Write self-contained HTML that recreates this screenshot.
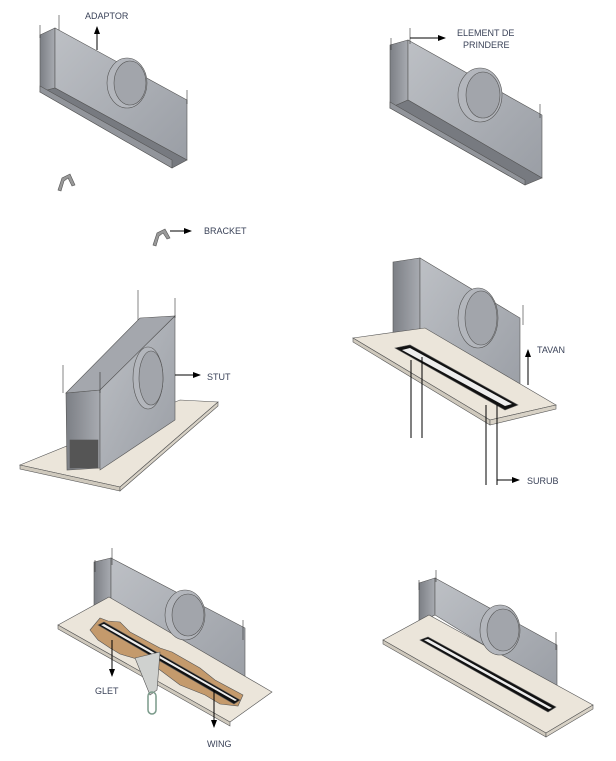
<!DOCTYPE html>
<html><head><meta charset="utf-8"><style>
html,body{margin:0;padding:0;background:#fff;}
svg{display:block;}
text{font-family:"Liberation Sans",sans-serif;font-size:9px;fill:#3a4258;}
</style></head><body>
<svg width="616" height="761" viewBox="0 0 616 761" xmlns="http://www.w3.org/2000/svg">
<defs>
<linearGradient id="g1" x1="0" y1="0" x2="1" y2="1"><stop offset="0" stop-color="#bdc0c5"/><stop offset="1" stop-color="#9a9ea5"/></linearGradient>
<linearGradient id="g2" x1="0" y1="0" x2="1" y2="0"><stop offset="0" stop-color="#7c7f85"/><stop offset="1" stop-color="#a8abb1"/></linearGradient>
<marker id="ah" markerWidth="8" markerHeight="6" refX="7" refY="3" orient="auto"><path d="M0,0 L8,3 L0,6z" fill="#000"/></marker>
</defs>
<g stroke="#555" stroke-width="0.6">
<polygon points="40,35 55,28 55,88 40,92" fill="url(#g2)"/>
<polygon points="55,28 187,100 187,160 55,88" fill="url(#g1)"/>
<polygon points="40,92 55,88 187,160 172,168" fill="#777a80"/>
<polygon points="40,92 172,168 172,160 40,86" fill="#92959b"/>
<ellipse cx="127" cy="83" rx="20" ry="25" fill="#b3b6bc"/>
<ellipse cx="130" cy="83" rx="16" ry="22" fill="#a2a5ab"/>
<line x1="59" y1="15" x2="59" y2="30" stroke="#333"/><line x1="40" y1="25" x2="40" y2="38" stroke="#333"/><line x1="187" y1="90" x2="187" y2="104" stroke="#333"/>
<path d="M58,190 L62,178 L70,174 L75,185 L72,186 L68,178 L64,181 L61,191z" fill="#999"/>
<path d="M153,245 L157,233 L165,229 L170,238 L167,239 L163,233 L159,236 L156,246z" fill="#999"/>
<polygon points="390,45 408,40 408,100 390,108" fill="url(#g2)"/>
<polygon points="408,40 542,115 542,178 408,100" fill="url(#g1)"/>
<polygon points="390,108 408,100 542,178 525,185" fill="#777a80"/>
<polygon points="390,108 525,185 525,180 390,102" fill="#92959b"/>
<ellipse cx="480" cy="95" rx="22" ry="27" fill="#b3b6bc"/>
<ellipse cx="483" cy="95" rx="17" ry="23" fill="#a2a5ab"/>
<line x1="410" y1="28" x2="410" y2="44" stroke="#333"/><line x1="391" y1="38" x2="391" y2="50" stroke="#333"/><line x1="540" y1="104" x2="540" y2="118" stroke="#333"/>
<polygon points="20,465 180,400 218,402 120,487" fill="#ebe5da"/>
<polygon points="20,465 120,487 120,491 20,469" fill="#cfc9bd"/>
<polygon points="120,487 218,402 218,406 120,491" fill="#d8d2c6"/>
<polygon points="66,393 100,390 100,468 67,470" fill="url(#g2)"/>
<polygon points="66,393 140,318 175,316 100,390" fill="#a4a7ad"/>
<polygon points="100,390 175,316 175,420 100,470" fill="url(#g1)"/>
<rect x="70" y="440" width="28" height="28" fill="#555"/>
<ellipse cx="148" cy="378" rx="15" ry="31" fill="#b3b6bc"/>
<ellipse cx="151" cy="378" rx="12" ry="27" fill="#a2a5ab"/>
<line x1="138" y1="290" x2="138" y2="320" stroke="#333"/><line x1="175" y1="298" x2="175" y2="318" stroke="#333"/><line x1="63" y1="365" x2="63" y2="393" stroke="#333"/><line x1="100" y1="372" x2="100" y2="393" stroke="#333"/>
<polygon points="393,262 420,258 420,340 393,345" fill="url(#g2)"/>
<polygon points="420,258 520,318 520,400 420,340" fill="url(#g1)"/>
<polygon points="353,338 425,328 556,405 490,420" fill="#ebe5da"/>
<polygon points="353,338 490,420 490,425 353,342" fill="#cfc9bd"/>
<polygon points="490,420 556,405 556,409 490,425" fill="#d8d2c6"/>
<polygon points="395,348 410,345 518,405 505,410" fill="#111"/>
<polygon points="402,350 410,348 512,404 505,406" fill="#eee" stroke="none"/>
<ellipse cx="478" cy="318" rx="20" ry="30" fill="#b3b6bc"/>
<ellipse cx="481" cy="318" rx="16" ry="27" fill="#a2a5ab"/>
<line x1="523" y1="305" x2="523" y2="325" stroke="#333"/>
</g>
<g stroke="#000" stroke-width="1">
<line x1="97" y1="50" x2="97" y2="27" marker-end="url(#ah)"/>
<line x1="170" y1="231" x2="191" y2="231" marker-end="url(#ah)"/>
<line x1="410" y1="38" x2="445" y2="38" marker-end="url(#ah)"/>
<line x1="175" y1="375" x2="200" y2="375" marker-end="url(#ah)"/>
<line x1="411" y1="360" x2="411" y2="438"/><line x1="422" y1="357" x2="422" y2="438"/>
<line x1="486" y1="405" x2="486" y2="485"/><line x1="497" y1="405" x2="497" y2="485"/>
<line x1="497" y1="480" x2="519" y2="480" marker-end="url(#ah)"/>
<line x1="528" y1="385" x2="528" y2="350" marker-end="url(#ah)"/>
</g>
<g stroke="#555" stroke-width="0.6">
<polygon points="94,562 111,558 111,610 94,615" fill="url(#g2)"/>
<polygon points="111,558 245,628 245,690 111,610" fill="url(#g1)"/>
<polygon points="58,625 109,597 272,692 230,722" fill="#ebe5da"/>
<polygon points="58,625 230,722 230,726 58,629" fill="#cfc9bd"/>
<path d="M90,630 L95,624 L100,618 L108,621 L120,622 L130,632 L160,648 L172,652 L200,668 L215,680 L243,695 L238,706 L220,704 L205,695 L180,685 L160,670 L140,660 L120,654 L110,648 L98,640z" fill="#c49a6c"/>
<polygon points="98,625 104,622 240,700 234,704" fill="#111"/>
<polygon points="101,625 104,624 237,700 235,701" fill="#eee" stroke="none"/>
<ellipse cx="185" cy="615" rx="20" ry="25" fill="#b3b6bc"/>
<ellipse cx="188" cy="615" rx="16" ry="21" fill="#a2a5ab"/>
<path d="M135,658 L160,652 L157,690 L150,695z" fill="#cfd1cf"/>
<rect x="148" y="692" width="8" height="22" rx="4" fill="none" stroke="#7a9a8a" stroke-width="1.5"/>
<line x1="112" y1="548" x2="112" y2="565" stroke="#333"/><line x1="95" y1="560" x2="95" y2="572" stroke="#333"/><line x1="243" y1="620" x2="243" y2="640" stroke="#333"/>
<polygon points="419,583 435,578 435,615 419,622" fill="url(#g2)"/>
<polygon points="435,578 557,645 557,690 435,615" fill="url(#g1)"/>
<polygon points="383,640 429,615 593,705 546,733" fill="#ebe5da"/>
<polygon points="383,640 546,733 546,737 383,644" fill="#cfc9bd"/>
<polygon points="546,733 593,705 593,709 546,737" fill="#d8d2c6"/>
<polygon points="420,640 428,637 556,707 548,712" fill="#111"/>
<polygon points="424,640 428,639 552,708 549,709" fill="#eee" stroke="none"/>
<ellipse cx="500" cy="630" rx="20" ry="25" fill="#b3b6bc"/>
<ellipse cx="503" cy="630" rx="16" ry="21" fill="#a2a5ab"/>
<line x1="436" y1="570" x2="436" y2="582" stroke="#333"/><line x1="419" y1="580" x2="419" y2="590" stroke="#333"/><line x1="556" y1="632" x2="556" y2="650" stroke="#333"/>
</g>
<g stroke="#000" stroke-width="1">
<line x1="112" y1="640" x2="112" y2="676" marker-end="url(#ah)"/>
<line x1="214" y1="690" x2="214" y2="727" marker-end="url(#ah)"/>
</g>
<text x="85" y="19">ADAPTOR</text>
<text x="204" y="234">BRACKET</text>
<text x="457" y="36">ELEMENT DE</text>
<text x="463" y="48">PRINDERE</text>
<text x="207" y="380">STUT</text>
<text x="537" y="353">TAVAN</text>
<text x="527" y="484">SURUB</text>
<text x="95" y="694">GLET</text>
<text x="207" y="747">WING</text>
</svg>
</body></html>
